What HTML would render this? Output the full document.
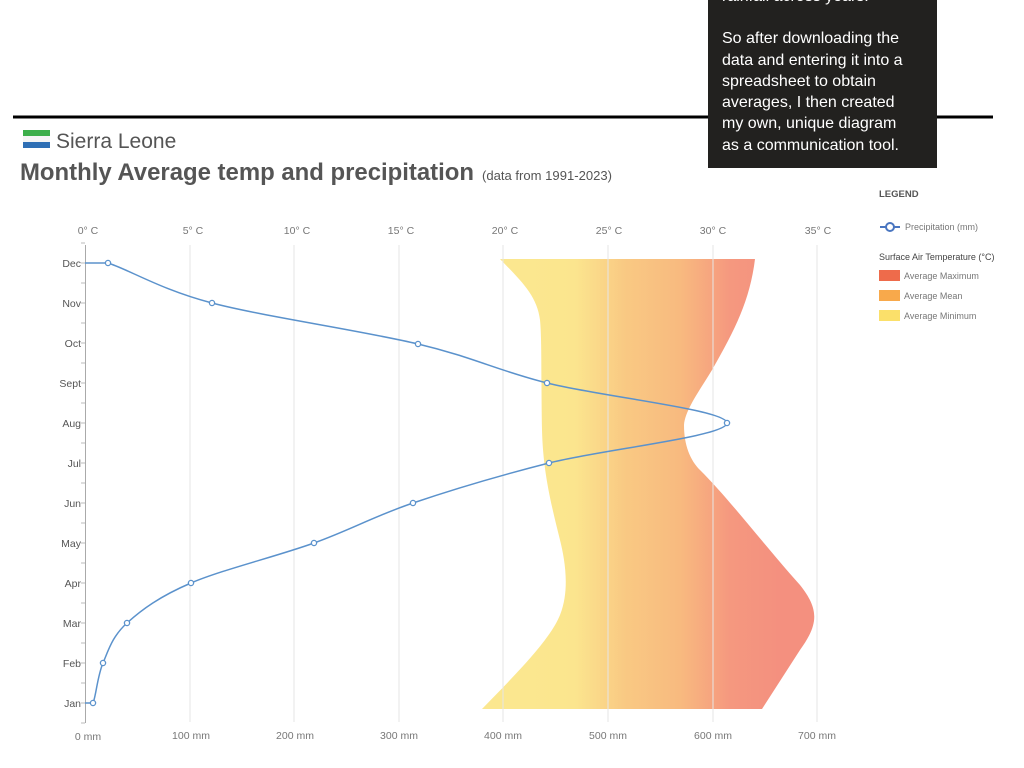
<!DOCTYPE html>
<html><head><meta charset="utf-8"><style>
body{margin:0;width:1024px;height:768px;background:#fff;position:relative;overflow:hidden;font-family:"Liberation Sans",sans-serif}
.box{position:absolute;left:708px;top:0;width:229px;height:168px;background:#22211f;color:#fff;font-size:16px;line-height:21.3px;box-sizing:border-box;padding:0 0 0 14px;white-space:nowrap}
</style></head><body>
<svg width="1024" height="768" style="position:absolute;left:0;top:0" font-family="Liberation Sans, sans-serif">
<defs>
<linearGradient id="g" gradientUnits="userSpaceOnUse" x1="530" y1="0" x2="780" y2="0">
<stop offset="0" stop-color="#fbe78f"/><stop offset="0.18" stop-color="#fbe58e"/><stop offset="0.38" stop-color="#f9c983"/><stop offset="0.6" stop-color="#f8ba7f"/><stop offset="0.8" stop-color="#f5987f"/><stop offset="1" stop-color="#f4907f"/>
</linearGradient>
</defs>
<rect x="13" y="115.5" width="980" height="3" fill="#000"/>
<rect x="23" y="130" width="27" height="6" fill="#3cae4a"/>
<rect x="23" y="136" width="27" height="6" fill="#f4f4f4"/>
<rect x="23" y="142" width="27" height="6" fill="#2f6fb5"/>
<text x="56" y="148" font-size="21" fill="#555">Sierra Leone</text>
<text x="20" y="180" font-size="24" font-weight="bold" fill="#555" textLength="454" lengthAdjust="spacingAndGlyphs">Monthly Average temp and precipitation</text>
<text x="482" y="180" font-size="13" fill="#555" textLength="130" lengthAdjust="spacingAndGlyphs">(data from 1991-2023)</text>
<path d="M500,259 L755,259 C750,300 735,330 712,370 C700,390 685,410 684,425 C684,445 690,460 700,470 C730,500 760,540 800,585 C820,610 818,625 800,650 L762,709 L482,709 C515,675 550,640 560,615 C570,590 565,560 560,540 C550,500 543,470 542,430 C541,380 542,340 540,320 C537,295 520,280 500,259 Z" fill="url(#g)"/>
<g stroke="#e6e6e6" stroke-width="1">
<line x1="190" y1="245" x2="190" y2="722"/><line x1="294" y1="245" x2="294" y2="722"/><line x1="399" y1="245" x2="399" y2="722"/><line x1="503" y1="245" x2="503" y2="722"/><line x1="608" y1="245" x2="608" y2="722"/><line x1="713" y1="245" x2="713" y2="722"/><line x1="817" y1="245" x2="817" y2="722"/>
</g>
<line x1="85.5" y1="245" x2="85.5" y2="723" stroke="#aaa"/>
<g id="ticks" stroke="#bbb"></g>
<g font-size="10.5" fill="#555" text-anchor="end">
<text x="81" y="267">Dec</text><text x="81" y="307">Nov</text><text x="81" y="347">Oct</text><text x="81" y="387">Sept</text><text x="81" y="427">Aug</text><text x="81" y="467">Jul</text><text x="81" y="507">Jun</text><text x="81" y="547">May</text><text x="81" y="587">Apr</text><text x="81" y="627">Mar</text><text x="81" y="667">Feb</text><text x="81" y="707">Jan</text>
</g>
<g font-size="10.5" fill="#777" text-anchor="middle">
<text x="88" y="234">0° C</text><text x="193" y="234">5° C</text><text x="297" y="234">10° C</text><text x="401" y="234">15° C</text><text x="505" y="234">20° C</text><text x="609" y="234">25° C</text><text x="713" y="234">30° C</text><text x="818" y="234">35° C</text>
<text x="88" y="740">0 mm</text><text x="191" y="739">100 mm</text><text x="295" y="739">200 mm</text><text x="399" y="739">300 mm</text><text x="503" y="739">400 mm</text><text x="608" y="739">500 mm</text><text x="713" y="739">600 mm</text><text x="817" y="739">700 mm</text>
</g>
<path id="pl" fill="none" stroke="#5b92cc" stroke-width="1.5"/>
<g id="pts" fill="#fff" stroke="#5b92cc" stroke-width="1.3"></g>
<text x="879" y="197" font-size="9.5" font-weight="bold" fill="#555">LEGEND</text>
<line x1="880" y1="227" x2="900" y2="227" stroke="#4a76c0" stroke-width="2"/>
<circle cx="890" cy="227" r="4" fill="#fff" stroke="#4a76c0" stroke-width="2"/>
<text x="905" y="230" font-size="9" fill="#777">Precipitation (mm)</text>
<text x="879" y="260" font-size="9" fill="#444">Surface Air Temperature (°C)</text>
<rect x="879" y="270" width="21" height="11" fill="#ee6b4b"/><text x="904" y="279" font-size="9" fill="#777">Average Maximum</text>
<rect x="879" y="290" width="21" height="11" fill="#f8a94b"/><text x="904" y="299" font-size="9" fill="#777">Average Mean</text>
<rect x="879" y="310" width="21" height="11" fill="#fbe06a"/><text x="904" y="319" font-size="9" fill="#777">Average Minimum</text>
</svg>
<div class="box"><div style="margin-top:-14px">rainfall across years.</div><div style="height:21px"></div>So after downloading the<br>data and entering it into a<br>spreadsheet to obtain<br>averages, I then created<br>my own, unique diagram<br>as a communication tool.</div>
<script>
var P=[[85,263],[108,263],[212,303],[418,344],[547,383],[727,423],[549,463],[413,503],[314,543],[191,583],[127,623],[103,663],[93,703],[85,703]];
var d="M"+P[0];
for(var i=0;i<P.length-1;i++){var p0=P[Math.max(0,i-1)],p1=P[i],p2=P[i+1],p3=P[Math.min(P.length-1,i+2)];
var c1=[p1[0]+(p2[0]-p0[0])/6,p1[1]+(p2[1]-p0[1])/6],c2=[p2[0]-(p3[0]-p1[0])/6,p2[1]-(p3[1]-p1[1])/6];
if(i==0||i==P.length-2){c1=p1;c2=p2;}
d+=" C"+c1+" "+c2+" "+p2;}
document.getElementById("pl").setAttribute("d",d);
var g=document.getElementById("pts"),s="";
for(var i=1;i<P.length-1;i++)s+='<circle cx="'+P[i][0]+'" cy="'+P[i][1]+'" r="2.6"/>';
g.innerHTML=s;
var t="";for(var y=243;y<=723;y+=20)t+='<line x1="81" x2="85" y1="'+y+'" y2="'+y+'"/>';
document.getElementById("ticks").innerHTML=t;
</script>
</body></html>
